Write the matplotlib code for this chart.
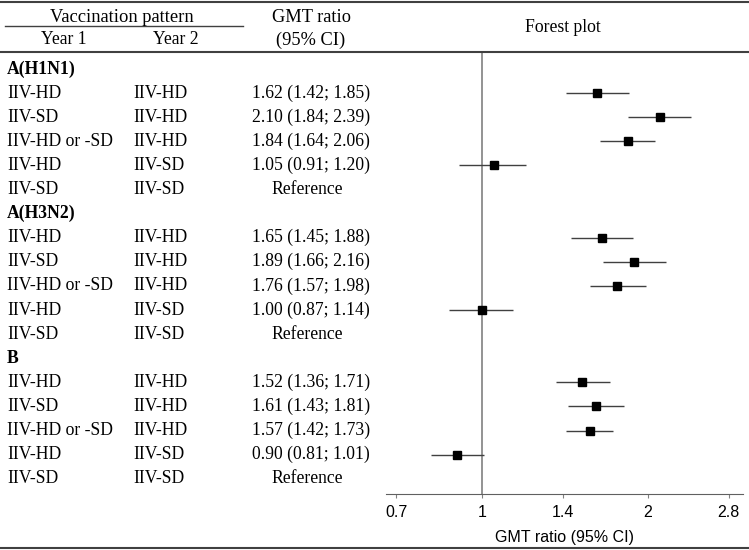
import matplotlib
matplotlib.use("Agg")
import matplotlib.pyplot as plt
import matplotlib.transforms as mtransforms
from matplotlib.lines import Line2D
from matplotlib.ticker import FixedLocator, NullLocator

# Table / forest data
groups = ["A(H1N1)", "A(H3N2)", "B"]
year1 = ["IIV-HD", "IIV-SD", "IIV-HD or -SD", "IIV-HD", "IIV-SD"]
year2 = ["IIV-HD", "IIV-HD", "IIV-HD", "IIV-SD", "IIV-SD"]
gmt = [[1.62, 2.10, 1.84, 1.05, None],
       [1.65, 1.89, 1.76, 1.00, None],
       [1.52, 1.61, 1.57, 0.90, None]]
ci_low = [[1.42, 1.84, 1.64, 0.91, None],
          [1.45, 1.66, 1.57, 0.87, None],
          [1.36, 1.43, 1.42, 0.81, None]]
ci_high = [[1.85, 2.39, 2.06, 1.20, None],
           [1.88, 2.16, 1.98, 1.14, None],
           [1.71, 1.81, 1.73, 1.01, None]]
xticks = [0.7, 1, 1.4, 2, 2.8]
xtick_labels = ["0.7", "1", "1.4", "2", "2.8"]

W, H = 749, 550
serif = "Liberation Serif"
sans = "Liberation Sans"
fs = 12.7

fig = plt.figure(figsize=(W / 100, H / 100), dpi=100)

# forest axes placed in pixel terms
ax_l, ax_r, ax_top, ax_bot = 386, 743, 52, 494
ax = fig.add_axes([ax_l / W, 1 - ax_bot / H, (ax_r - ax_l) / W, (ax_bot - ax_top) / H])
row0, step = 69, 24.1
ax.set_ylim((ax_bot - row0) / step, (ax_top - row0) / step)
ax.set_xscale("log")
ax.set_xlim(0.670, 2.974)

tr = mtransforms.blended_transform_factory(fig.transFigure, ax.transData)

row = 0
for g, name in enumerate(groups):
    fig.text(7 / W, row, name, transform=tr, fontfamily=serif, fontsize=fs,
             fontweight="bold", va="center", ha="left")
    row += 1
    for k in range(len(year1)):
        fig.text(7 / W, row, year1[k], transform=tr, fontfamily=serif, fontsize=fs,
                 va="center", ha="left")
        fig.text(133 / W, row, year2[k], transform=tr, fontfamily=serif, fontsize=fs,
                 va="center", ha="left")
        if gmt[g][k] is None:
            fig.text(307 / W, row, "Reference", transform=tr, fontfamily=serif,
                     fontsize=fs, va="center", ha="center")
        else:
            label = f"{gmt[g][k]:.2f} ({ci_low[g][k]:.2f}; {ci_high[g][k]:.2f})"
            fig.text(370 / W, row, label, transform=tr, fontfamily=serif, fontsize=fs,
                     va="center", ha="right")
            ax.plot([ci_low[g][k], ci_high[g][k]], [row, row], color="#404040",
                    lw=1.0, solid_capstyle="butt", zorder=3)
            ax.plot(gmt[g][k], row, marker="s", color="black", markersize=5.5,
                    zorder=4)
        row += 1

ax.axvline(1, color="#808080", lw=1.2, zorder=2)

for s in ["top", "right", "left"]:
    ax.spines[s].set_visible(False)
ax.spines["bottom"].set_color("#606060")
ax.yaxis.set_visible(False)
ax.xaxis.set_major_locator(FixedLocator(xticks))
ax.xaxis.set_minor_locator(NullLocator())
ax.set_xticklabels(xtick_labels)
ax.tick_params(axis="x", length=3, color="#808080", pad=5, labelsize=11.5)
for t in ax.get_xticklabels():
    t.set_fontfamily(sans)
ax.set_xlabel("GMT ratio (95% CI)", fontfamily=sans, fontsize=11.5, labelpad=7)
ax.patch.set_visible(False)

# header text
fig.text(122 / W, 1 - 18 / H, "Vaccination pattern", fontfamily=serif, fontsize=13.3,
         ha="center", va="center")
fig.text(64 / W, 1 - 40 / H, "Year 1", fontfamily=serif, fontsize=12.7,
         ha="center", va="center")
fig.text(176 / W, 1 - 40 / H, "Year 2", fontfamily=serif, fontsize=12.7,
         ha="center", va="center")
fig.text(311 / W, 1 - 18 / H, "GMT ratio", fontfamily=serif, fontsize=13.2,
         ha="center", va="center")
fig.text(311 / W, 1 - 40 / H, "(95% CI)", fontfamily=serif, fontsize=13.2,
         ha="center", va="center")
fig.text(563 / W, 1 - 28 / H, "Forest plot", fontfamily=serif, fontsize=12.7,
         ha="center", va="center")

# table rules
def hline(x0, x1, y, lw=1.5, color="#404040"):
    fig.add_artist(Line2D([x0 / W, x1 / W], [1 - y / H, 1 - y / H], color=color, lw=lw))

hline(0, W, 2)
hline(5, 243, 26, lw=1.0)
hline(0, W, 52)
hline(0, W, 548)

fig.savefig("out.png", dpi=100)
